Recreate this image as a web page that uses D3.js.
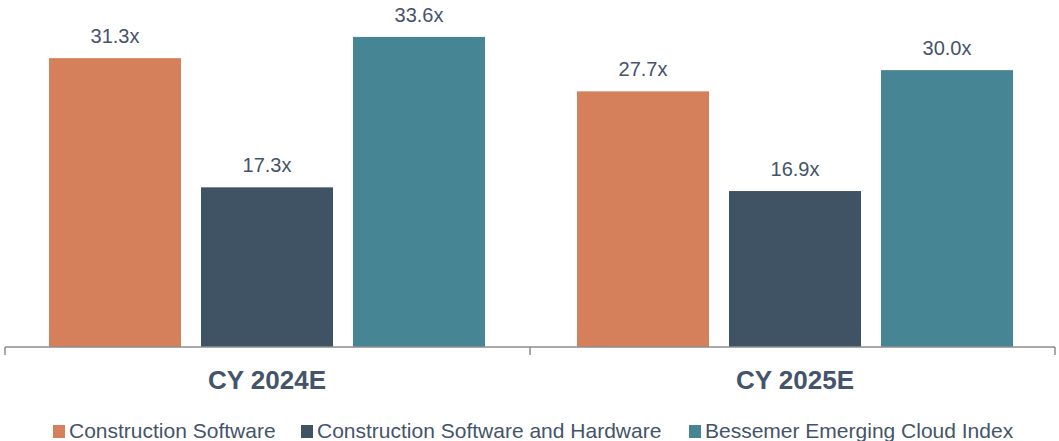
<!DOCTYPE html>
<html>
<head>
<meta charset="utf-8">
<script src="https://cdn.jsdelivr.net/npm/d3@7"></script>
<style>
  body { margin: 0; background: #fff; }
  text { font-family: "Liberation Sans", Arial, sans-serif; }
</style>
</head>
<body>
<script>
// chart data
var categories = ["CY 2024E", "CY 2025E"];
var seriesNames = ["Construction Software", "Construction Software and Hardware", "Bessemer Emerging Cloud Index"];
var constructionSoftware = [31.3, 27.7];
var softwareAndHardware = [17.3, 16.9];
var bessemerCloud = [33.6, 30.0];
var colors = ["#D5805A", "#3F5364", "#468593"];

var width = 1059, height = 441;
var baseY = 347, left = 5, right = 1055;

var svg = d3.select("body").append("svg")
        .attr("width", width)
        .attr("height", height);

// group scale (step of 528px between the two clusters)
var x0 = d3.scaleBand()
        .domain(categories)
        .range([left, left + 1056]);

var x1 = d3.scaleBand()
        .domain(seriesNames)
        .range([44, 480])
        .paddingInner(0.1316)
        .paddingOuter(0);

var y = d3.scaleLinear()
        .domain([0, 37.6])
        .range([baseY, 0]);

var series = [constructionSoftware, softwareAndHardware, bessemerCloud];
var rows = [];
categories.forEach(function(c, i) {
    seriesNames.forEach(function(s, j) {
        rows.push({cat: c, name: s, value: series[j][i], color: colors[j]});
    });
});

//bars
svg.append("g")
        .selectAll("rect")
        .data(rows)
        .enter().append("rect")
        .attr("x", function(d) { return x0(d.cat) + x1(d.name); })
        .attr("y", function(d) { return y(d.value); })
        .attr("width", x1.bandwidth())
        .attr("height", function(d) { return baseY - y(d.value); })
        .attr("fill", function(d) { return d.color; });

//value labels
svg.append("g")
        .selectAll("text")
        .data(rows)
        .enter().append("text")
        .attr("x", function(d) { return x0(d.cat) + x1(d.name) + x1.bandwidth() / 2; })
        .attr("y", function(d) { return y(d.value) - 15; })
        .attr("text-anchor", "middle")
        .attr("font-size", "20px")
        .attr("fill", "#44546A")
        .text(function(d) { return d.value.toFixed(1) + "x"; });

//x axis line
svg.append("line")
        .attr("x1", left)
        .attr("x2", right)
        .attr("y1", baseY)
        .attr("y2", baseY)
        .attr("stroke", "#8c8c8c")
        .attr("stroke-width", 1.5);

// group separators
var edges = [left, (left + right) / 2, right];
svg.append("g")
        .selectAll("line")
        .data(edges)
        .enter().append("line")
        .attr("x1", function(d) { return d; })
        .attr("x2", function(d) { return d; })
        .attr("y1", baseY)
        .attr("y2", baseY + 8)
        .attr("stroke", "#8c8c8c")
        .attr("stroke-width", 1.5);

var mid = (x1.range()[0] + x1.range()[1]) / 2;
svg.append("g")
        .selectAll("text")
        .data(categories)
        .enter().append("text")
        .attr("x", function(d) { return x0(d) + mid; })
        .attr("y", 389)
        .attr("text-anchor", "middle")
        .attr("font-size", "26px")
        .attr("font-weight", "bold")
        .attr("fill", "#44546A")
        .text(function(d) { return d; });

//legend
var legendX = [53, 301, 689];
var legend = svg.append("g")
        .selectAll("g")
        .data(seriesNames)
        .enter().append("g")
        .attr("transform", function(d, i) { return "translate(" + legendX[i] + ",425)"; });
legend.append("rect")
        .attr("width", 12)
        .attr("height", 13)
        .attr("fill", function(d, i) { return colors[i]; });
legend.append("text")
        .attr("x", 16)
        .attr("y", 13)
        .attr("font-size", "21px")
        .attr("fill", "#44546A")
        .text(function(d) { return d; });
</script>
</body>
</html>
